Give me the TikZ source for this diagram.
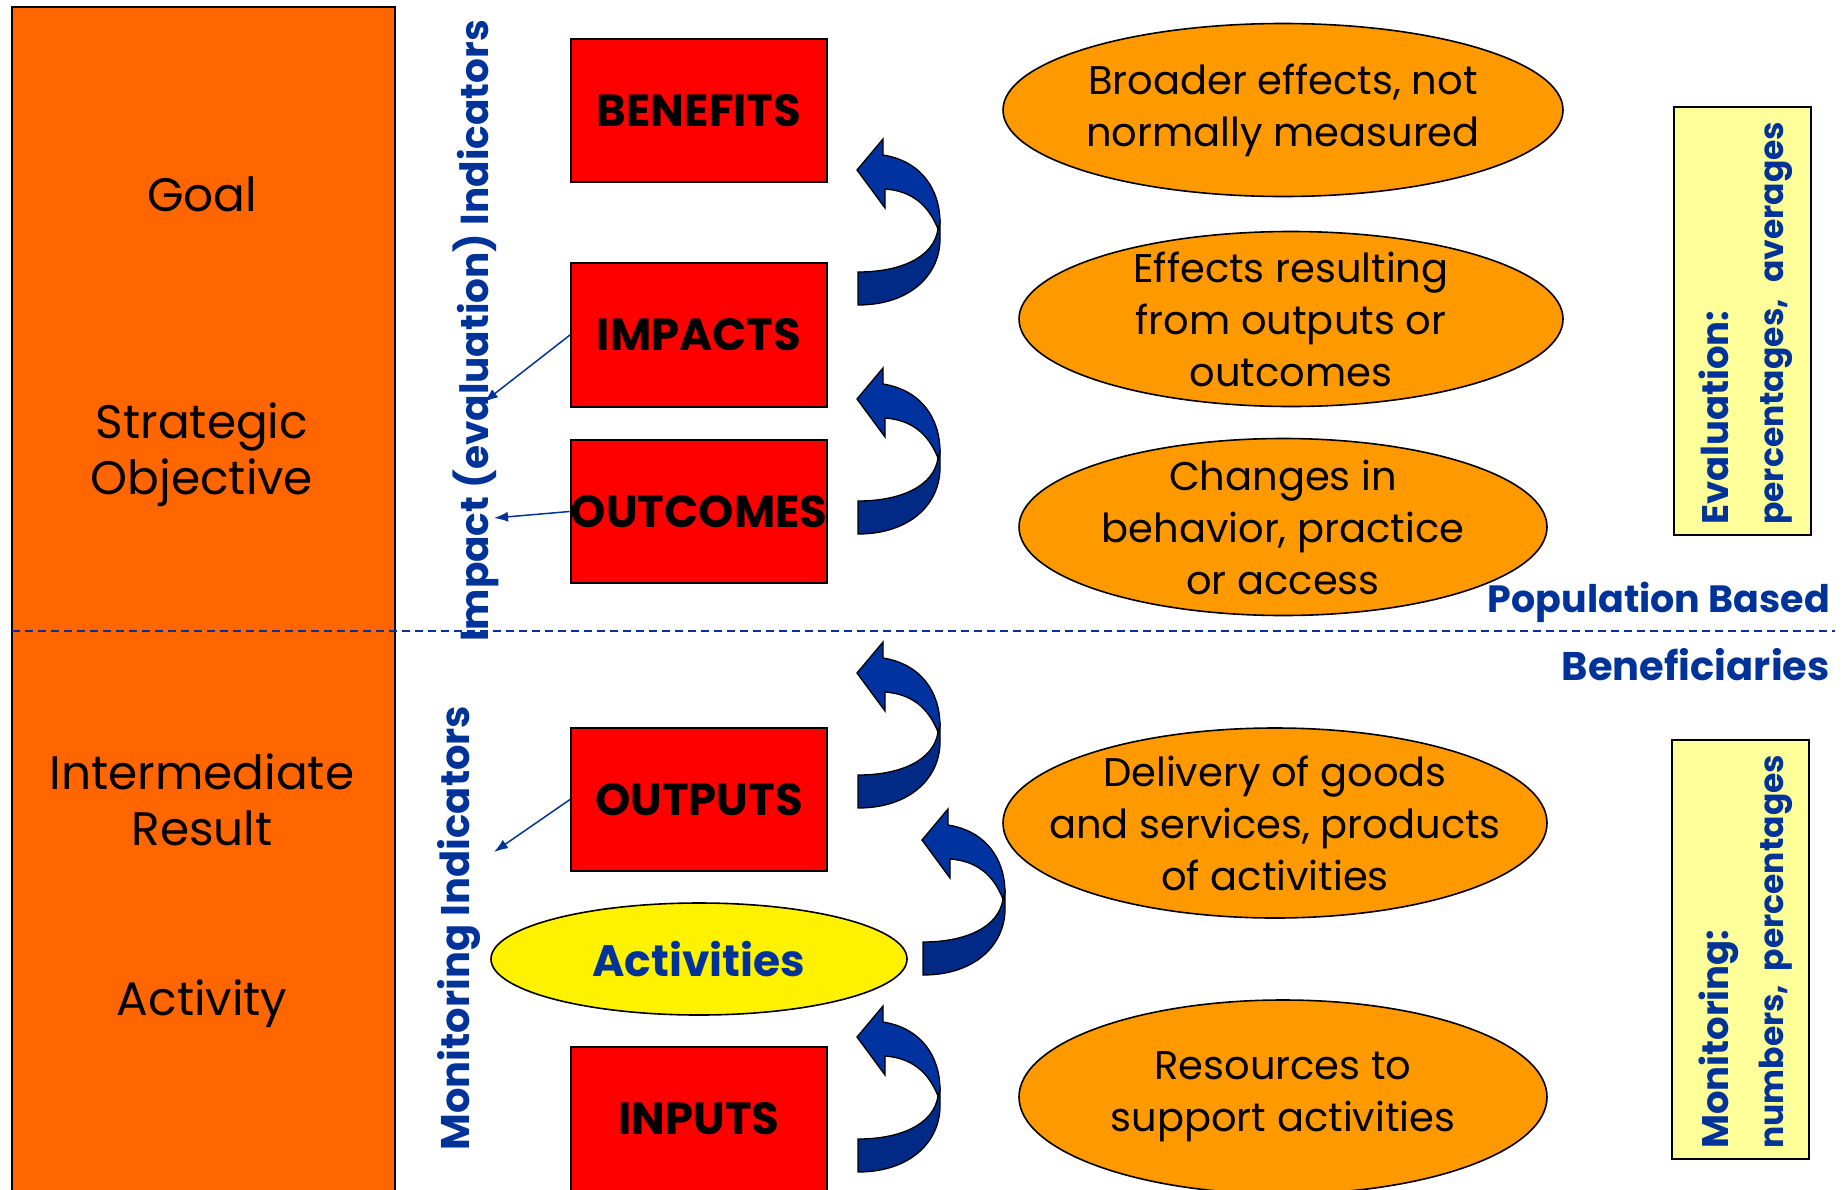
\documentclass[tikz,border=0pt]{standalone}
\usepackage{fontspec}
\setmainfont{Poppins}
\usetikzlibrary{shapes.geometric,arrows.meta}
\definecolor{leftorange}{HTML}{FF6600}
\definecolor{ellorange}{HTML}{FF9900}
\definecolor{boxred}{HTML}{FF0000}
\definecolor{pale}{HTML}{FFFF99}
\definecolor{txtblue}{HTML}{003399}
\definecolor{arrlight}{HTML}{0033A0}
\definecolor{arrdark}{HTML}{002A85}
\begin{document}
\begin{tikzpicture}[x=1pt,y=-1pt,
  lefttext/.style={align=center,font=\fontsize{47}{56}\selectfont,text=black},
  redbox/.style={draw=black,line width=2pt,fill=boxred,minimum width=256pt,inner sep=0pt},
  boxtext/.style={font=\fontsize{45}{50}\selectfont\bfseries,text=black},
  oell/.style={ellipse,draw=black,line width=1.6pt,fill=ellorange,inner sep=0pt},
  etext/.style={align=center,inner sep=0pt,font=\fontsize{40}{52}\selectfont,text=black},
  bluebold/.style={font=\fontsize{38}{55}\selectfont\bfseries,text=txtblue,inner sep=0pt},
  paleside/.style={font=\fontsize{33}{55}\selectfont\bfseries,text=txtblue,inner sep=0pt,align=left,rotate=90,anchor=north west},
  thinarrow/.style={draw=txtblue,line width=1.5pt,-{Latex[length=14pt,width=10pt]}},
  uturn/.pic={
    \filldraw[fill=arrlight,draw=black,line width=1.3pt]
      (27,16) .. controls (65,22) and (84,50) .. (84,84) -- (82,90)
      .. controls (72,65) and (55,52) .. (29,50) -- (29,69) -- (1,31) -- (27,0) -- cycle;
    \filldraw[fill=arrdark,draw=black,line width=1.3pt]
      (82,90) .. controls (78,118) and (45,133) .. (2,133) -- (2,166)
      .. controls (55,166) and (84,135) .. (84,100) -- (84,84) -- cycle;
  }]
\useasboundingbox (0,0) rectangle (1843,1189);
\fill[white] (0,0) rectangle (1843,1189);

% left column
\draw[fill=leftorange,line width=2.5pt] (12,7) rectangle (395,1220);
\node[lefttext] (goal) at (202,194) {Goal};
\node[lefttext] (strat) at (202,455) {Strategic\\Objective};
\node[lefttext] (inter) at (202,800) {Intermediate\\Result};
\node[lefttext] (act) at (202,1004) {Activity};

% red boxes
\node[redbox,minimum height=143pt,boxtext] (benefits) at (699,110.5) {BENEFITS};
\node[redbox,minimum height=144pt,boxtext] (impacts) at (699,335) {IMPACTS};
\node[redbox,minimum height=143pt,boxtext] (outcomes) at (699,511.5) {OUTCOMES};
\node[redbox,minimum height=143pt,boxtext] (outputs) at (699,799.5) {OUTPUTS};
\draw[draw=black,line width=2pt,fill=boxred] (571,1047) rectangle (827,1240);
\node[boxtext] (inputs) at (699,1119) {INPUTS};

% activities
\node[ellipse,draw=black,line width=1.6pt,fill=yellow,minimum width=416pt,minimum height=112pt,inner sep=0pt,
      font=\fontsize{44}{50}\selectfont\bfseries,text=txtblue] (activities) at (699,959) {Activities};

% orange ellipses
\node[oell,minimum width=560pt,minimum height=173pt] (e1) at (1283,110) {};
\node[etext] (e1t) at (e1) {Broader effects, not\\normally measured};
\node[oell,minimum width=544pt,minimum height=175pt] (e2) at (1291,319) {};
\node[etext] (e2t) at (e2) {Effects resulting\\from outputs or\\outcomes};
\node[oell,minimum width=528pt,minimum height=177pt] (e3) at (1283,527) {};
\node[etext] (e3t) at (e3) {Changes in\\behavior, practice\\or access};
\node[oell,minimum width=544pt,minimum height=190pt] (e4) at (1275,823) {};
\node[etext] (e4t) at (e4) {Delivery of goods\\and services, products\\of activities};
\node[oell,minimum width=528pt,minimum height=194pt] (e5) at (1283,1097) {};
\node[etext] (e5t) at (e5) {Resources to\\support activities};

% curved arrows
\pic at (856,139) {uturn};
\pic at (856,368) {uturn};
\pic at (856,642) {uturn};
\pic at (921,809) {uturn};
\pic at (856,1006) {uturn};

% rotated indicator labels
\node[bluebold,rotate=90,font=\fontsize{39}{50}\selectfont\bfseries] (impind) at (476,331) {Impact (evaluation) Indicators};
\node[bluebold,rotate=90,font=\fontsize{40}{50}\selectfont\bfseries] (monind) at (459,928) {Monitoring Indicators};

% thin arrows
\coordinate (ia) at (484,402);
\coordinate (oa) at (494,518);
\coordinate (pa) at (494,852);
\draw[thinarrow] (impacts.west) -- (ia);
\draw[thinarrow] (outcomes.west) -- (oa);
\draw[thinarrow] (outputs.west) -- (pa);

% dashed divider
\coordinate (dl) at (12,631);
\coordinate (dr) at (1835,631);
\draw[txtblue,line width=1.5pt,dash pattern=on 8pt off 5pt] (dl) -- (dr);

\node[bluebold,anchor=east] (pop) at (1830,602) {Population Based};
\node[bluebold,anchor=east,font=\fontsize{40}{50}\selectfont\bfseries] (ben) at (1830,665) {Beneficiaries};

% side boxes
\draw[fill=pale,line width=2pt] (1674,107) rectangle (1811,535);
\node[paleside] (evaltxt) at (1699,525) {{\fontsize{37}{55}\selectfont Evaluation:}\\\makebox[403pt][s]{percentages,\hfill averages}};
\draw[fill=pale,line width=2pt] (1672,740) rectangle (1809,1159);
\node[paleside] (montxt) at (1699,1149) {{\fontsize{37}{55}\selectfont Monitoring:}\\\makebox[394pt][s]{numbers,\hfill percentages}};
\end{tikzpicture}
\end{document}
